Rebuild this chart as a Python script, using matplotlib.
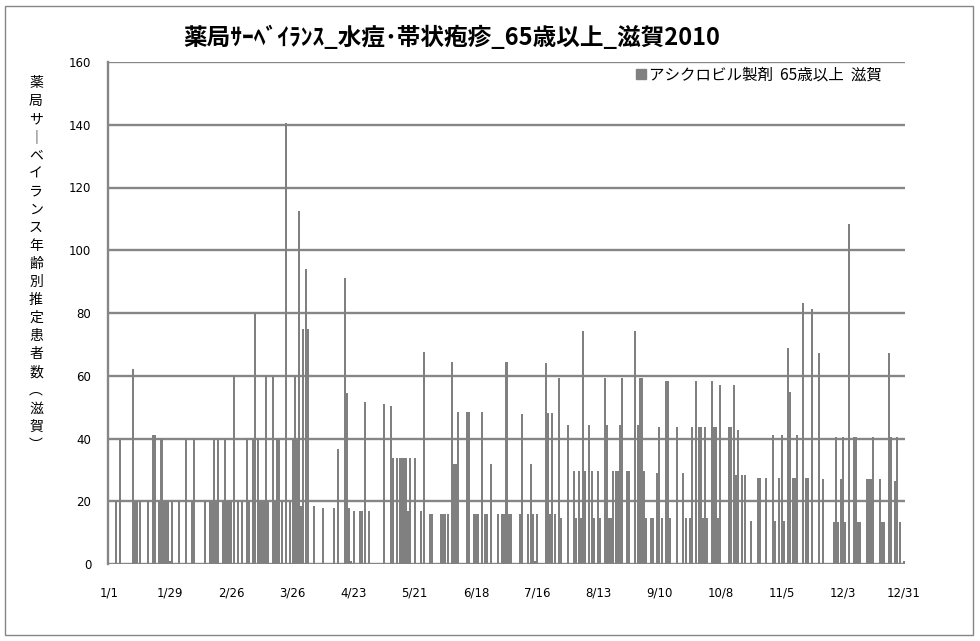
import matplotlib.pyplot as plt
import pandas as pd
from matplotlib.lines import Line2D
from matplotlib.patches import Rectangle

plt.rcParams['font.family'] = ['Noto Sans CJK JP', 'DejaVu Sans']

# day number counted from 2010/1/1 (0..364); days not listed are 0
day_index = [
    3, 5, 11, 12, 13, 14, 18, 20, 21, 23, 24, 25, 26, 27, 28, 29, 32, 35, 38, 39,
    44, 46, 47, 48, 49, 50, 52, 53, 54, 55, 56, 57, 59, 61, 63, 64, 66, 67, 68, 69,
    70, 71, 72, 73, 75, 76, 77, 78, 79, 81, 83, 84, 85, 86, 87, 88, 89, 90, 91, 94,
    98, 103, 105, 108, 109, 110, 111, 112, 115, 116, 117, 119, 126, 129, 130, 132, 133, 134, 135, 136,
    137, 138, 140, 143, 144, 147, 148, 152, 153, 154, 155, 157, 158, 159, 160, 164, 165, 167, 168, 169,
    171, 172, 173, 175, 178, 180, 181, 182, 183, 184, 188, 189, 192, 193, 194, 195, 196, 200, 201, 202,
    203, 204, 206, 207, 210, 213, 214, 215, 216, 217, 218, 220, 221, 222, 224, 225, 227, 228, 229, 230,
    231, 232, 233, 234, 235, 237, 238, 241, 242, 243, 244, 245, 246, 248, 249, 251, 252, 253, 255, 256,
    257, 260, 263, 264, 266, 267, 269, 270, 271, 272, 273, 274, 276, 277, 278, 279, 280, 284, 285, 286,
    287, 288, 290, 291, 294, 297, 298, 301, 304, 305, 307, 308, 309, 311, 312, 313, 314, 315, 318, 319,
    320, 322, 325, 327, 332, 333, 334, 335, 336, 337, 339, 341, 342, 343, 344, 347, 348, 349, 350, 353,
    354, 355, 357, 358, 360, 361, 362, 364,
]
patients = [
    20, 40, 62, 20, 20, 20, 20, 41, 41, 20, 40, 20, 20, 20, 1, 20, 20, 40, 20, 40,
    20, 20, 20, 40, 20, 40, 20, 40, 20, 20, 20, 60, 20, 20, 40, 20, 40, 80, 40, 20,
    20, 20, 60, 20, 60, 20, 40, 40, 20, 140.5, 20, 40, 60, 40, 112.5, 18.5, 75, 94, 75, 18.5,
    18, 18, 36.5, 91, 54.5, 18, 1, 17, 17, 17, 51.5, 17, 51, 50.5, 33.7, 33.7, 33.7, 33.7, 33.7, 33.7,
    17, 33.7, 33.7, 17, 67.5, 16, 16, 16, 16, 16, 16, 64.5, 32, 32, 48.5, 48.5, 48.5, 16, 16, 16,
    48.5, 16, 16, 32, 16, 16, 16, 64.5, 16, 16, 16, 47.8, 16, 32, 16, 1, 16, 64, 48, 16,
    48, 16, 59.4, 14.6, 44.3, 29.6, 14.6, 29.6, 14.6, 74.3, 29.6, 44.3, 29.6, 14.6, 29.6, 14.6, 59.4, 44.3, 14.6, 14.6,
    29.6, 29.6, 29.6, 44.3, 59.4, 29.6, 29.6, 74.3, 44.3, 59.4, 59.4, 29.6, 14.6, 14.6, 14.6, 29.1, 43.6, 14.6, 58.2, 58.2,
    14.6, 43.6, 29.1, 14.6, 14.6, 43.6, 58.2, 43.6, 43.6, 14.6, 43.6, 14.6, 58.2, 43.6, 43.6, 14.6, 57, 43.6, 43.6, 57,
    28.4, 42.6, 28.4, 28.4, 13.7, 27.3, 27.3, 27.3, 41.1, 13.7, 27.3, 41.1, 13.7, 68.9, 54.9, 27.3, 27.3, 41.1, 83.1, 27.3,
    27.3, 81.2, 67.2, 27, 13.5, 40.4, 13.5, 27, 40.4, 13.5, 108.3, 40.4, 40.4, 13.5, 13.5, 27, 27, 27, 40.4, 27,
    13.5, 13.5, 67.2, 40.4, 26.5, 40.4, 13.5, 1,
]

title = "薬局ｻｰﾍﾞｲﾗﾝｽ_水痘･帯状疱疹_65歳以上_滋賀2010"
series_name = "アシクロビル製剤  65歳以上  滋賀"
y_label = "薬局サーベイランス年齢別推定患者数(滋賀)"
y_ticks = [0, 20, 40, 60, 80, 100, 120, 140, 160]

dates = pd.date_range("2010-01-01", "2010-12-31", freq="D")
values = [0.0] * len(dates)
for d, v in zip(day_index, patients):
    values[d] = v

tick_pos = list(range(0, len(dates), 28))
tick_labels = [f"{dates[i].month}/{dates[i].day}" for i in tick_pos]

W, H = 980, 641
fig = plt.figure(figsize=(W / 100, H / 100), dpi=100)
ax = fig.add_axes([108 / W, 1 - 564 / H, (905 - 108) / W, (564 - 62) / H])

gray = '#868686'
ax.bar(range(len(dates)), values, width=0.92, color='#808080', linewidth=0, zorder=2)

ax.set_xlim(-0.5, len(dates) - 0.5)
ax.set_ylim(0, 160)
ax.set_yticks(y_ticks)
ax.set_xticks(tick_pos)
ax.set_xticklabels(tick_labels)
ax.yaxis.grid(True, color=gray, linewidth=1.7, zorder=1)
ax.set_axisbelow(True)
ax.tick_params(axis='both', length=0, labelsize=8.5, colors='black')
ax.tick_params(axis='y', pad=12)
ax.tick_params(axis='x', pad=16)
for lab in ax.get_xticklabels() + ax.get_yticklabels():
    lab.set_family(['DejaVu Sans'])

for side in ['top', 'right', 'bottom']:
    ax.spines[side].set_visible(False)
ax.spines['left'].set_color(gray)
ax.spines['left'].set_linewidth(1.7)

fig.text(452 / W, 1 - 38 / H, title, ha='center', va='center',
         fontsize=17, fontweight='bold')

# vertical stacked y label
vert_map = {'ー': '｜', '(': '︵', ')': '︶'}
vlabel = "\n".join(vert_map.get(c, c) for c in y_label)
fig.text(36 / W, 1 - 264 / H, vlabel, ha='center', va='center',
         fontsize=10, linespacing=1.37)

handle = Line2D([], [], marker='s', color='#808080', linestyle='none', markersize=7.5)
ax.legend([handle], [series_name], loc='center left',
          bbox_to_anchor=(627 / W, 1 - 75 / H), bbox_transform=fig.transFigure,
          frameon=False, fontsize=11.2, handletextpad=0.1, borderpad=0,
          handlelength=0.8)

fig.patches.append(Rectangle((5 / W, 1 - 635 / H), 968 / W, 629 / H,
                             transform=fig.transFigure, fill=False,
                             edgecolor=gray, linewidth=1))

fig.savefig("out.png", dpi=100)
